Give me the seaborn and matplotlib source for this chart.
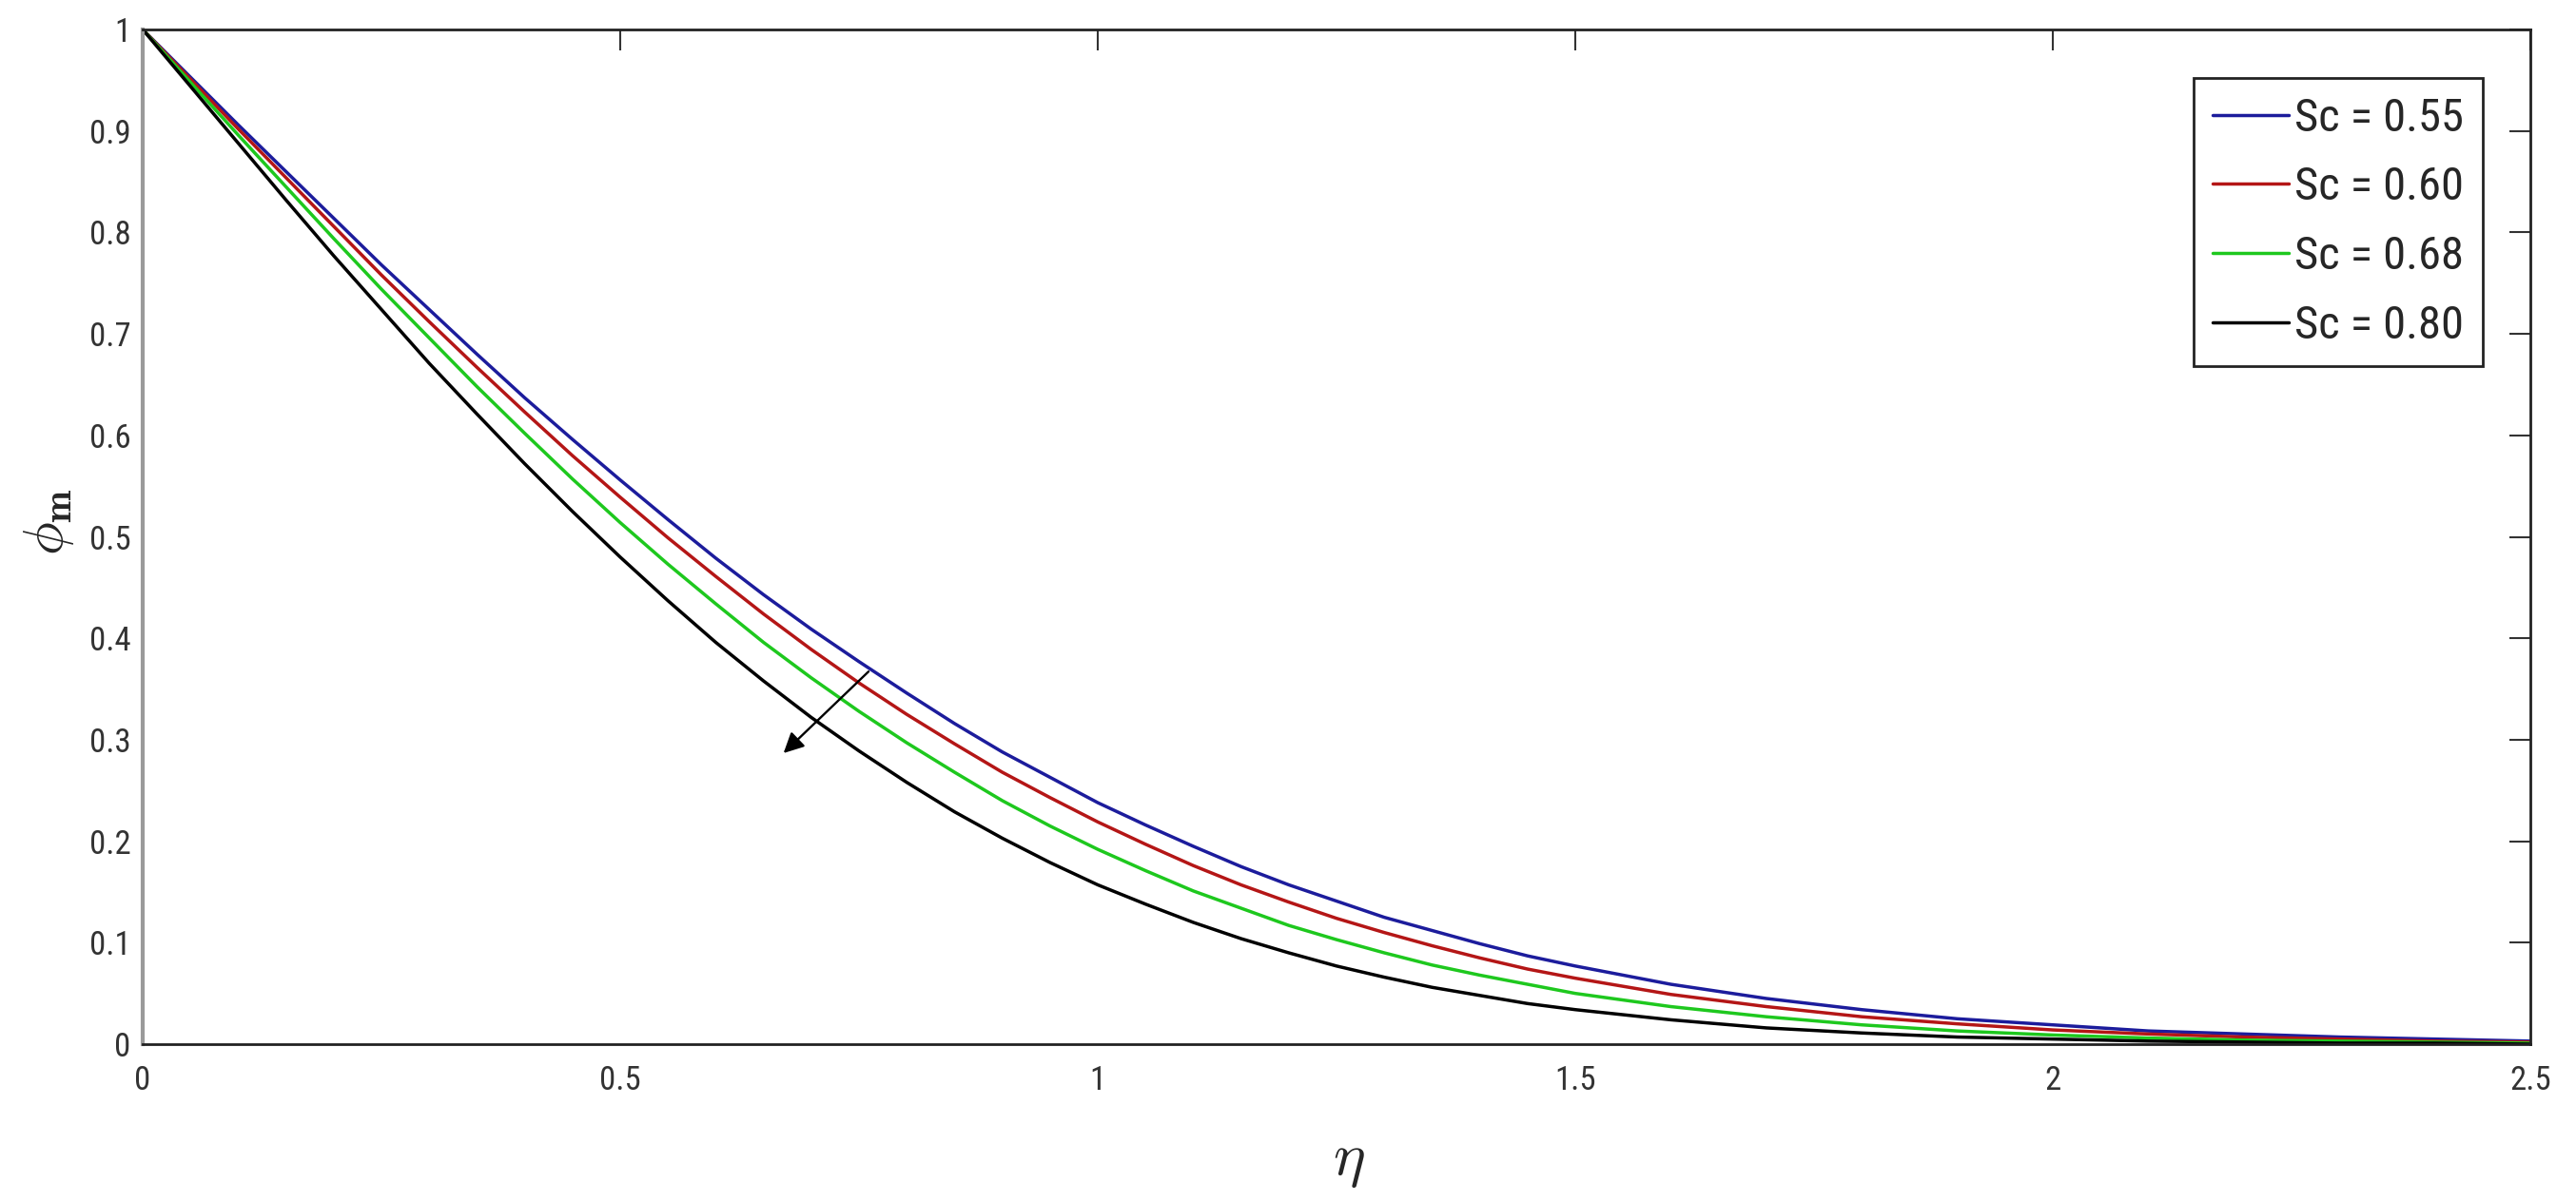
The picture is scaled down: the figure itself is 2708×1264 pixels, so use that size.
import numpy as np
import pandas as pd
import matplotlib
matplotlib.use('Agg')
import matplotlib.pyplot as plt
import seaborn as sns

# values
eta = [0.0, 0.05, 0.1, 0.15, 0.2, 0.25, 0.3, 0.35, 0.4, 0.45, 0.5, 0.55, 0.6,
       0.65, 0.7, 0.75, 0.8, 0.85, 0.9, 0.95, 1.0, 1.05, 1.1, 1.15, 1.2, 1.25,
       1.3, 1.35, 1.4, 1.45, 1.5, 1.6, 1.7, 1.8, 1.9, 2.0, 2.1, 2.2, 2.3, 2.4, 2.5]
phi_055 = [1.000, 0.953, 0.906, 0.860, 0.814, 0.768, 0.724, 0.680, 0.637, 0.596,
           0.556, 0.517, 0.479, 0.443, 0.409, 0.377, 0.346, 0.316, 0.288, 0.263,
           0.238, 0.216, 0.195, 0.175, 0.157, 0.141, 0.125, 0.112, 0.099, 0.087,
           0.077, 0.059, 0.045, 0.034, 0.025, 0.019, 0.013, 0.010, 0.007, 0.005, 0.003]
phi_060 = [1.000, 0.951, 0.902, 0.854, 0.806, 0.758, 0.712, 0.667, 0.623, 0.580,
           0.539, 0.499, 0.461, 0.424, 0.389, 0.356, 0.325, 0.296, 0.268, 0.243,
           0.219, 0.197, 0.176, 0.157, 0.140, 0.124, 0.110, 0.097, 0.085, 0.074,
           0.065, 0.049, 0.037, 0.027, 0.020, 0.014, 0.010, 0.007, 0.005, 0.003, 0.002]
phi_068 = [1.000, 0.948, 0.896, 0.845, 0.794, 0.744, 0.696, 0.648, 0.602, 0.557,
           0.514, 0.473, 0.434, 0.396, 0.361, 0.328, 0.297, 0.268, 0.240, 0.215,
           0.192, 0.171, 0.151, 0.134, 0.117, 0.103, 0.090, 0.078, 0.068, 0.059,
           0.050, 0.037, 0.027, 0.019, 0.013, 0.009, 0.006, 0.004, 0.003, 0.002, 0.001]
phi_080 = [1.000, 0.944, 0.888, 0.832, 0.777, 0.724, 0.671, 0.621, 0.572, 0.525,
           0.480, 0.437, 0.396, 0.358, 0.322, 0.289, 0.258, 0.229, 0.203, 0.179,
           0.157, 0.138, 0.120, 0.104, 0.090, 0.077, 0.066, 0.056, 0.048, 0.040,
           0.034, 0.024, 0.016, 0.011, 0.007, 0.005, 0.003, 0.002, 0.001, 0.001, 0.000]

labels = ['Sc = 0.55', 'Sc = 0.60', 'Sc = 0.68', 'Sc = 0.80']
colors = ['#1c1c9c', '#b41616', '#1ec81e', '#000000']

xticks = [0, 0.5, 1, 1.5, 2, 2.5]
xtick_labels = ['0', '0.5', '1', '1.5', '2', '2.5']
yticks = [0, 0.1, 0.2, 0.3, 0.4, 0.5, 0.6, 0.7, 0.8, 0.9, 1]
ytick_labels = ['0', '0.1', '0.2', '0.3', '0.4', '0.5', '0.6', '0.7', '0.8', '0.9', '1']

# arrow showing increasing Sc (data coords)
arrow_start = (0.762, 0.369)
arrow_end = (0.669, 0.285)

# long form table for seaborn
frames = []
for lab, vals in zip(labels, [phi_055, phi_060, phi_068, phi_080]):
    frames.append(pd.DataFrame({'eta': eta, 'phi': vals, 'Sc': lab}))
df = pd.concat(frames, ignore_index=True)

sns.set_style('white')
plt.rcParams['font.family'] = ['Roboto Condensed', 'Roboto', 'DejaVu Sans']
plt.rcParams['mathtext.fontset'] = 'cm'

fig = plt.figure(figsize=(27.08, 12.64), dpi=100)
ax = fig.add_axes([150 / 2708, 1 - 1098 / 1264, 2510 / 2708, 1067 / 1264])

sns.lineplot(data=df, x='eta', y='phi', hue='Sc', palette=colors,
             linewidth=2.5, ax=ax, sort=False)
for ln in ax.get_lines():
    ln.set_solid_joinstyle('round')

ax.set_xlim(0, 2.5)
ax.set_ylim(0, 1)
ax.set_xticks(xticks)
ax.set_xticklabels(xtick_labels)
ax.set_yticks(yticks)
ax.set_yticklabels(ytick_labels)
ax.tick_params(direction='in', length=16, width=1.5, top=True, right=True,
               labelsize=25, colors='#333333')
ax.tick_params(axis='x', pad=16)
ax.tick_params(axis='y', pad=9)
for s in ax.spines.values():
    s.set_color('#222222')
    s.set_linewidth(2)
ax.spines['left'].set_color('#9a9a9a')
ax.spines['left'].set_linewidth(3)

ax.set_xlabel(r'$\eta$', fontsize=46)
ax.xaxis.set_label_coords(0.505, -0.085)
ax.set_ylabel(r'$\phi_{\mathbf{m}}$', fontsize=42)
ax.yaxis.set_label_coords(-0.028, 0.515)

ax.annotate('', xy=arrow_end, xytext=arrow_start,
            arrowprops=dict(arrowstyle='-|>', color='black', lw=1.7,
                            mutation_scale=32))

leg = ax.legend(loc='upper right', bbox_to_anchor=(0.980, 0.952),
                borderaxespad=0, fancybox=False, framealpha=1,
                edgecolor='#222222', fontsize=35, handlelength=1.65,
                handletextpad=0.13, labelspacing=0.55, borderpad=0.4)
leg.get_frame().set_linewidth(2)

fig.savefig('out.png', dpi=100)
